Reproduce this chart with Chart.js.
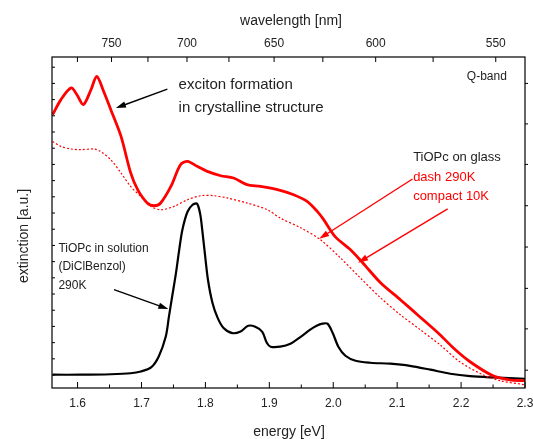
<!DOCTYPE html>
<html>
<head>
<meta charset="utf-8">
<script src="https://cdn.jsdelivr.net/npm/chart.js@4.4.0/dist/chart.umd.min.js"></script>
<style>
  html, body { margin: 0; padding: 0; background: #fff; }
</style>
</head>
<body>
<canvas id="chart" width="533" height="439"></canvas>
<script>
// TiOPc on glass, compact line, 10K
const energy10K = [1.561, 1.574, 1.590, 1.599, 1.609, 1.621, 1.630, 1.641, 1.652, 1.668, 1.683, 1.694, 1.709, 1.720, 1.730, 1.746, 1.761, 1.772, 1.787, 1.803, 1.824, 1.844, 1.865, 1.886, 1.917, 1.938, 1.959, 1.975, 1.985, 2.003, 2.027, 2.046, 2.074, 2.105, 2.137, 2.167, 2.188, 2.214, 2.250, 2.276, 2.300];
const ext10K    = [16.07, 17.00, 17.72, 17.30, 16.69, 17.61, 18.43, 17.49, 16.38, 14.73, 12.49, 11.44, 10.62, 10.45, 10.62, 11.64, 12.98, 13.19, 12.88, 12.57, 12.30, 12.16, 11.75, 11.64, 11.40, 11.13, 10.72, 10.10, 9.59, 8.54, 7.73, 6.93, 5.70, 4.65, 3.54, 2.49, 1.67, 0.82, -0.05, -0.30, -0.35];

// TiOPc on glass, dashed line, 290K
const energy290K = [1.561, 1.574, 1.590, 1.605, 1.626, 1.636, 1.652, 1.668, 1.683, 1.699, 1.715, 1.730, 1.751, 1.772, 1.793, 1.813, 1.834, 1.865, 1.897, 1.917, 1.949, 1.980, 2.011, 2.042, 2.074, 2.105, 2.136, 2.167, 2.198, 2.234, 2.261, 2.300];
const ext290K    = [14.42, 14.11, 13.95, 13.91, 13.95, 13.80, 13.29, 12.47, 11.64, 11.02, 10.41, 10.20, 10.41, 10.82, 11.07, 11.07, 10.93, 10.62, 10.20, 9.69, 9.09, 8.35, 7.24, 6.01, 4.77, 3.72, 2.80, 1.87, 0.82, 0.02, -0.35, -0.60];

// TiOPc in solution (DiClBenzol), 290K
const energySol = [1.561, 1.605, 1.652, 1.683, 1.699, 1.715, 1.727, 1.738, 1.743, 1.748, 1.754, 1.759, 1.764, 1.772, 1.780, 1.787, 1.792, 1.795, 1.799, 1.804, 1.811, 1.819, 1.828, 1.842, 1.855, 1.867, 1.878, 1.889, 1.896, 1.902, 1.917, 1.933, 1.949, 1.964, 1.974, 1.983, 1.991, 1.999, 2.008, 2.019, 2.035, 2.058, 2.089, 2.120, 2.152, 2.183, 2.214, 2.250, 2.300];
const extSol    = [0.02, 0.02, 0.05, 0.11, 0.22, 0.47, 1.15, 2.38, 3.62, 4.85, 6.31, 7.73, 8.97, 10.08, 10.51, 10.57, 9.90, 8.97, 7.55, 5.88, 4.46, 3.54, 2.92, 2.59, 2.69, 3.04, 2.98, 2.67, 1.99, 1.75, 1.75, 1.93, 2.36, 2.80, 3.04, 3.17, 3.17, 2.61, 1.75, 1.19, 0.88, 0.76, 0.70, 0.57, 0.33, 0.08, -0.07, -0.15, -0.23];

const energyTicks = [1.6, 1.7, 1.8, 1.9, 2.0, 2.1, 2.2, 2.3];
const energyMinor = [1.65, 1.75, 1.85, 1.95, 2.05, 2.15, 2.25];
const wavelengthTicks = [775, 750, 725, 700, 675, 650, 625, 600, 575, 550];
const leftTicks = [0, 1, 2, 3, 4, 5, 6, 7, 8, 9, 10, 11, 12, 13, 14, 15, 16, 17, 18, 19];
const rightTicks = [0.3, 2.85, 5.35, 7.9, 10.45, 13.0, 15.5, 18.0];

const HC = 1239.84; // eV*nm
const FONT = '"Liberation Sans", Arial, sans-serif';
const TXT = '#222';

const pts = (xs, ys) => xs.map((x, i) => ({ x: x, y: ys[i] }));

function arrow(ctx, x1, y1, x2, y2, color) {
  const a = Math.atan2(y2 - y1, x2 - x1);
  const L = 10, W = 3.2;
  ctx.save();
  ctx.strokeStyle = color;
  ctx.fillStyle = color;
  ctx.lineWidth = 1.4;
  ctx.beginPath();
  ctx.moveTo(x1, y1);
  ctx.lineTo(x2 - Math.cos(a) * L * 0.8, y2 - Math.sin(a) * L * 0.8);
  ctx.stroke();
  ctx.beginPath();
  ctx.moveTo(x2, y2);
  ctx.lineTo(x2 - Math.cos(a) * L - Math.sin(a) * W, y2 - Math.sin(a) * L + Math.cos(a) * W);
  ctx.lineTo(x2 - Math.cos(a) * L + Math.sin(a) * W, y2 - Math.sin(a) * L - Math.cos(a) * W);
  ctx.closePath();
  ctx.fill();
  ctx.restore();
}

const decor = {
  id: 'decor',
  afterDraw(chart) {
    const { ctx, chartArea: ca } = chart;
    const xs = chart.scales.x, ys = chart.scales.y;
    const X = v => xs.getPixelForValue(v);
    const Y = v => ys.getPixelForValue(v);

    ctx.save();
    // frame
    ctx.strokeStyle = '#000';
    ctx.lineWidth = 1.2;
    ctx.strokeRect(ca.left, ca.top, ca.right - ca.left, ca.bottom - ca.top);

    // inward ticks
    ctx.lineWidth = 1;
    ctx.beginPath();
    energyTicks.forEach(e => { const x = X(e); ctx.moveTo(x, ca.bottom); ctx.lineTo(x, ca.bottom - 6); });
    energyMinor.forEach(e => { const x = X(e); ctx.moveTo(x, ca.bottom); ctx.lineTo(x, ca.bottom - 3.5); });
    wavelengthTicks.forEach(nm => { const x = X(HC / nm); ctx.moveTo(x, ca.top); ctx.lineTo(x, ca.top + 5); });
    leftTicks.forEach(v => { const y = Y(v); ctx.moveTo(ca.left, y); ctx.lineTo(ca.left + 3, y); });
    rightTicks.forEach(v => { const y = Y(v); ctx.moveTo(ca.right, y); ctx.lineTo(ca.right + 3, y); });
    ctx.stroke();

    // axis titles
    ctx.fillStyle = TXT;
    ctx.font = '14px ' + FONT;
    ctx.textAlign = 'center';
    ctx.textBaseline = 'middle';
    ctx.fillText('wavelength [nm]', 291, 21);
    ctx.fillText('energy [eV]', 289, 432);
    ctx.save();
    ctx.translate(24, 236);
    ctx.rotate(-Math.PI / 2);
    ctx.fillText('extinction [a.u.]', 0, 0);
    ctx.restore();

    // annotations
    ctx.textAlign = 'left';
    ctx.font = '15px ' + FONT;
    ctx.fillText('exciton formation', X(1.758), Y(17.92));
    ctx.fillText('in crystalline structure', X(1.758), Y(16.50));
    arrow(ctx, X(1.7405), Y(17.65), X(1.660), Y(16.48), '#000');

    ctx.font = '12px ' + FONT;
    ctx.fillText('Q-band', X(2.209), Y(18.43));

    ctx.font = '13px ' + FONT;
    ctx.fillText('TiOPc on glass', X(2.125), Y(13.41));
    ctx.fillStyle = '#ff0000';
    ctx.fillText('dash 290K', X(2.125), Y(12.20));
    ctx.fillText('compact 10K', X(2.125), Y(11.02));
    arrow(ctx, X(2.124), Y(12.10), X(1.978), Y(8.41), '#ff0000');
    arrow(ctx, X(2.179), Y(10.25), X(2.039), Y(6.93), '#ff0000');

    ctx.font = '12px ' + FONT;
    ctx.fillStyle = TXT;
    ctx.fillText('TiOPc in solution', X(1.570), Y(7.80));
    ctx.fillText('(DiClBenzol)', X(1.570), Y(6.67));
    ctx.fillText('290K', X(1.570), Y(5.53));
    arrow(ctx, X(1.657), Y(5.27), X(1.742), Y(4.07), '#000');
    ctx.restore();
  }
};

const noEdgePad = s => { s.paddingLeft = 0; s.paddingRight = 0; };

new Chart(document.getElementById('chart'), {
  type: 'line',
  data: {
    datasets: [
      {
        label: 'dash 290K',
        data: pts(energy290K, ext290K),
        borderColor: '#ff0000',
        borderWidth: 1.2,
        borderDash: [2, 2],
        tension: 0.3,
        pointRadius: 0
      },
      {
        label: 'compact 10K',
        data: pts(energy10K, ext10K),
        borderColor: '#ff0000',
        borderWidth: 2.8,
        tension: 0.3,
        pointRadius: 0
      },
      {
        label: 'solution 290K',
        data: pts(energySol, extSol),
        borderColor: '#000',
        borderWidth: 2.2,
        tension: 0.3,
        pointRadius: 0
      }
    ]
  },
  options: {
    responsive: false,
    animation: false,
    parsing: false,
    layout: { padding: { left: 52, right: 8, top: 0, bottom: 0 } },
    plugins: { legend: { display: false }, tooltip: { enabled: false } },
    scales: {
      x: {
        type: 'linear',
        position: 'bottom',
        min: 1.56,
        max: 2.3,
        grid: { display: false, drawTicks: false },
        border: { display: false },
        afterBuildTicks: s => { s.ticks = energyTicks.map(v => ({ value: v })); },
        afterFit: s => { s.height = 51; noEdgePad(s); },
        ticks: {
          autoSkip: false,
          maxRotation: 0,
          padding: 8,
          color: TXT,
          font: { family: FONT, size: 12 },
          callback: v => v.toFixed(1)
        }
      },
      xTop: {
        type: 'linear',
        position: 'top',
        min: 1.56,
        max: 2.3,
        grid: { display: false, drawTicks: false },
        border: { display: false },
        afterBuildTicks: s => { s.ticks = wavelengthTicks.map(nm => ({ value: HC / nm })); },
        afterFit: s => { s.height = 57; noEdgePad(s); },
        ticks: {
          autoSkip: false,
          maxRotation: 0,
          padding: 6,
          color: TXT,
          font: { family: FONT, size: 12 },
          callback: v => { const nm = Math.round(HC / v); return nm % 50 === 0 ? String(nm) : ''; }
        }
      },
      y: {
        type: 'linear',
        min: -0.8,
        max: 19.63,
        display: false,
        afterBuildTicks: s => { s.ticks = leftTicks.map(v => ({ value: v })); }
      }
    }
  },
  plugins: [decor]
});
</script>
</body>
</html>
